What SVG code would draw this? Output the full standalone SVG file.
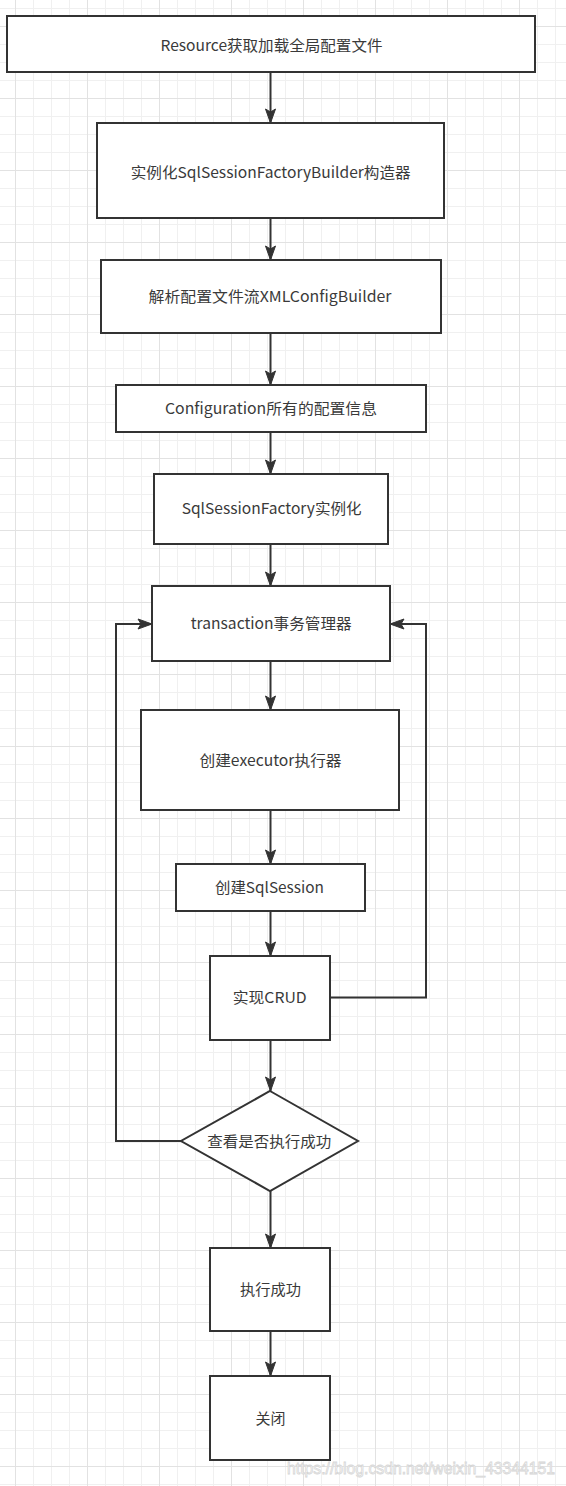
<svg xmlns="http://www.w3.org/2000/svg" width="566" height="1486" viewBox="0 0 566 1486">
<defs>
<pattern id="grid" patternUnits="userSpaceOnUse" x="15" y="26" width="72" height="72">
<path d="M18.5,0V72M36.5,0V72M54.5,0V72M0,18.5H72M0,36.5H72M0,54.5H72" stroke="#f0f0f0" stroke-width="1" fill="none"/>
<path d="M0.5,0V72M0,0.5H72" stroke="#e2e2e2" stroke-width="1" fill="none"/>
</pattern>
<marker id="arr" markerUnits="userSpaceOnUse" markerWidth="16" markerHeight="12" viewBox="0 0 16 12" refX="15" refY="6" orient="auto">
<path d="M1,1 L15,6 L1,11 L4,6 Z" fill="#333" stroke="#333" stroke-width="1"/>
</marker>
</defs>
<style>
.box{fill:#fff;stroke:#333;stroke-width:2}
.lbl{font-family:"Noto Sans CJK SC","Microsoft YaHei",sans-serif;font-size:15px;fill:#3a3a3a;text-anchor:middle}
.edge{fill:none;stroke:#333;stroke-width:2;marker-end:url(#arr)}
.wm{font-family:"Liberation Sans",Arial,sans-serif;font-size:16px;fill:#fff;stroke:#d6d6d6;stroke-width:0.8}
</style>
<rect width="566" height="1486" fill="#fff"/>
<rect width="566" height="1486" fill="url(#grid)"/>

<g id="connectors">
<path class="edge" d="M270.5,72V123"/>
<path class="edge" d="M270.5,218V260"/>
<path class="edge" d="M270.5,333V385"/>
<path class="edge" d="M270.5,432V474"/>
<path class="edge" d="M270.5,544V586"/>
<path class="edge" d="M270.5,661V710"/>
<path class="edge" d="M270.5,810V864"/>
<path class="edge" d="M270.5,911V956"/>
<path class="edge" d="M270.5,1040V1091"/>
<path class="edge" d="M270.5,1191V1248"/>
<path class="edge" d="M270.5,1331V1376"/>
<path class="edge" d="M181,1141H116V624H152"/>
<path class="edge" d="M330,997.5H426V624H390"/>
</g>

<g id="n1"><rect class="box" x="7" y="16" width="528" height="56"/><text class="lbl" x="271.5" y="51" textLength="222" lengthAdjust="spacingAndGlyphs">Resource获取加载全局配置文件</text></g>
<g id="n2"><rect class="box" x="97" y="123" width="347" height="95"/><text class="lbl" x="270.7" y="177.5" textLength="280" lengthAdjust="spacingAndGlyphs">实例化SqlSessionFactoryBuilder构造器</text></g>
<g id="n3"><rect class="box" x="101" y="260" width="340" height="73"/><text class="lbl" x="270" y="302" textLength="243" lengthAdjust="spacingAndGlyphs">解析配置文件流XMLConfigBuilder</text></g>
<g id="n4"><rect class="box" x="116" y="385" width="310" height="47"/><text class="lbl" x="271" y="414" textLength="212" lengthAdjust="spacingAndGlyphs">Configuration所有的配置信息</text></g>
<g id="n5"><rect class="box" x="154" y="474" width="234" height="70"/><text class="lbl" x="271.7" y="514" textLength="180" lengthAdjust="spacingAndGlyphs">SqlSessionFactory实例化</text></g>
<g id="n6"><rect class="box" x="152" y="586" width="238" height="75"/><text class="lbl" x="271.2" y="629" textLength="161" lengthAdjust="spacingAndGlyphs">transaction事务管理器</text></g>
<g id="n7"><rect class="box" x="141" y="710" width="258" height="100"/><text class="lbl" x="270.5" y="766" textLength="142" lengthAdjust="spacingAndGlyphs">创建executor执行器</text></g>
<g id="n8"><rect class="box" x="176" y="864" width="189" height="47"/><text class="lbl" x="269.5" y="893" textLength="109" lengthAdjust="spacingAndGlyphs">创建SqlSession</text></g>
<g id="n9"><rect class="box" x="210" y="956" width="120" height="84"/><text class="lbl" x="269.7" y="1003" textLength="74" lengthAdjust="spacingAndGlyphs">实现CRUD</text></g>
<g id="n10"><polygon class="box" points="270,1091 358,1141 270,1191 181,1141"/><text class="lbl" x="269.2" y="1146.5" textLength="124" lengthAdjust="spacingAndGlyphs">查看是否执行成功</text></g>
<g id="n11"><rect class="box" x="210" y="1248" width="120" height="83"/><text class="lbl" x="270.5" y="1295" textLength="61" lengthAdjust="spacingAndGlyphs">执行成功</text></g>
<g id="n12"><rect class="box" x="210" y="1376" width="120" height="84"/><text class="lbl" x="270.5" y="1423.5">关闭</text></g>

<text class="wm" x="287" y="1474" textLength="268" lengthAdjust="spacingAndGlyphs">https://blog.csdn.net/weixin_43344151</text>
</svg>
